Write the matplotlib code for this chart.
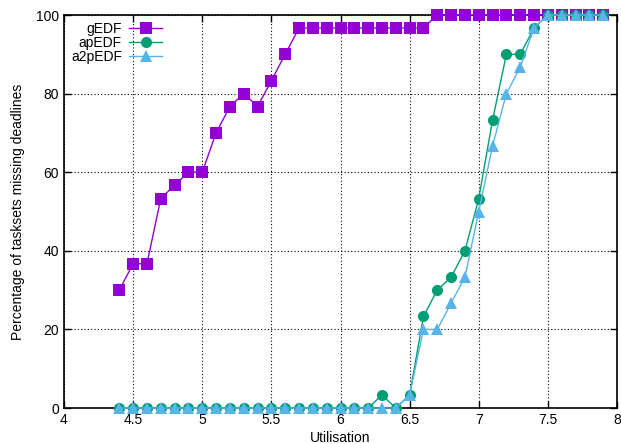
import numpy as np
import matplotlib
matplotlib.use('Agg')
import matplotlib.pyplot as plt

plt.rcParams['font.family'] = ['Liberation Sans', 'DejaVu Sans']

# Utilisation points (4.4 .. 7.9)
util = [4.4, 4.5, 4.6, 4.7, 4.8, 4.9, 5.0, 5.1, 5.2, 5.3, 5.4, 5.5, 5.6, 5.7,
        5.8, 5.9, 6.0, 6.1, 6.2, 6.3, 6.4, 6.5, 6.6, 6.7, 6.8, 6.9, 7.0, 7.1,
        7.2, 7.3, 7.4, 7.5, 7.6, 7.7, 7.8, 7.9]

gedf = [30, 36.7, 36.7, 53.3, 56.7, 60, 60, 70, 76.7, 80, 76.7, 83.3, 90, 96.7,
        96.7, 96.7, 96.7, 96.7, 96.7, 96.7, 96.7, 96.7, 96.7, 100, 100, 100, 100, 100,
        100, 100, 100, 100, 100, 100, 100, 100]

apedf = [0, 0, 0, 0, 0, 0, 0, 0, 0, 0, 0, 0, 0, 0,
         0, 0, 0, 0, 0, 3.3, 0, 3.3, 23.3, 30, 33.3, 40, 53.3, 73.3,
         90, 90, 96.7, 100, 100, 100, 100, 100]

a2pedf = [0, 0, 0, 0, 0, 0, 0, 0, 0, 0, 0, 0, 0, 0,
          0, 0, 0, 0, 0, 0, 0, 3.3, 20, 20, 26.7, 33.3, 50, 66.7,
          80, 86.7, 96.7, 100, 100, 100, 100, 100]

fig = plt.figure(figsize=(6.21, 4.44), dpi=100)
ax = fig.add_axes([64 / 621, 1 - 408 / 444, 553 / 621, 393 / 444])

ax.plot(util, gedf, color='#9400D3', lw=1, marker='s', ms=8.6, mew=0, label='gEDF', clip_on=False, zorder=3)
ax.plot(util, apedf, color='#009E73', lw=1, marker='o', ms=8, mew=0, label='apEDF', clip_on=False, zorder=4)
ax.plot(util, a2pedf, color='#56B4E9', lw=1, marker='^', ms=8, mew=0, label='a2pEDF', clip_on=False, zorder=5)

ax.set_xlim(4, 8)
ax.set_ylim(0, 100)
ax.set_xticks(np.arange(4, 8.01, 0.5))
ax.set_xticklabels(['4', '4.5', '5', '5.5', '6', '6.5', '7', '7.5', '8'])
ax.set_yticks(np.arange(0, 101, 20))
ax.tick_params(direction='in', top=True, right=True, labelsize=10, length=5, width=1)
ax.grid(True, color='black', linestyle=(0, (1, 2)), lw=0.8)
for s in ax.spines.values():
    s.set_linewidth(1.2)

ax.set_xlabel('Utilisation', fontsize=10, labelpad=3)
ax.set_ylabel('Percentage of tasksets missing deadlines', fontsize=10, labelpad=8)

ax.legend(loc='upper left', frameon=False, markerfirst=False, fontsize=10,
          handlelength=2.4, handletextpad=0.5, labelspacing=0.0, borderaxespad=0.1,
          bbox_to_anchor=(0.0, 1.0))

fig.savefig('out.png', dpi=100)
